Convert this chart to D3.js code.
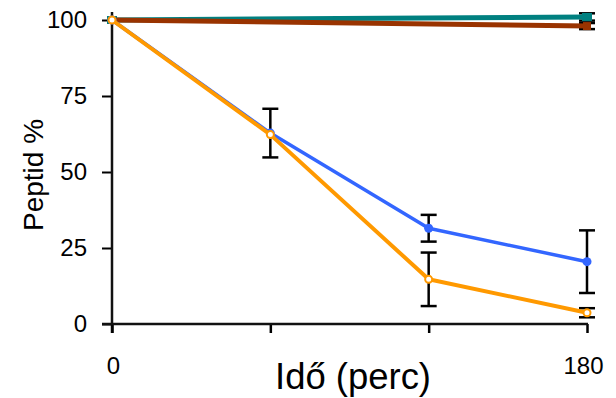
<!DOCTYPE html>
<html>
<head>
<meta charset="utf-8">
<script src="https://cdn.jsdelivr.net/npm/d3@7"></script>
<style>
  body { margin: 0; background: #fff; }
  text { font-family: "Liberation Sans", Arial, sans-serif; }
</style>
</head>
<body>
<script>
// data
var times = [0, 60, 120, 180];
var xTickLabels = ["0", "", "", "180"];
var yTicks = [0, 25, 50, 75, 100];

var tealTimes = [0, 180];
var tealValues = [100, 101];
var tealErr = [0, 1.2];

var brownTimes = [0, 180];
var brownValues = [100, 98];
var brownErr = [0, 1];

var blueValues = [100, 62.8, 31.5, 20.5];
var blueErr = [0, 8, 4.4, 10.3];

var orangeValues = [100, 62.3, 14.7, 3.7];
var orangeErr = [0, 0, 8.8, 1.5];

var W = 616, H = 398;
var svg = d3.select("body").append("svg")
    .attr("width", W).attr("height", H);

var x = d3.scaleLinear().domain([0, 180]).range([112, 587]);
var y = d3.scaleLinear().domain([0, 100]).range([324, 20]);

// y axis
var yAxis = svg.append("g")
    .attr("transform", "translate(112,0)")
    .call(d3.axisLeft(y).tickValues(yTicks).tickSize(10).tickSizeOuter(0).tickPadding(15));
yAxis.select(".domain").remove();
yAxis.selectAll("line").attr("stroke", "#000").attr("stroke-width", 2);
yAxis.selectAll("text").attr("font-size", 24).attr("fill", "#000");
svg.append("line")
    .attr("x1", 112).attr("x2", 112)
    .attr("y1", 12).attr("y2", 333)
    .attr("stroke", "#111").attr("stroke-width", 2.5);

// x axis
var xAxis = svg.append("g")
    .attr("transform", "translate(0,324)")
    .call(d3.axisBottom(x).tickValues(times).tickSize(9).tickSizeOuter(0)
        .tickFormat(function(d, i) { return xTickLabels[i]; }).tickPadding(24));
xAxis.select(".domain").remove();
xAxis.selectAll("line").attr("stroke", "#000").attr("stroke-width", 2.5);
xAxis.selectAll("text").attr("font-size", 24).attr("fill", "#000")
    .attr("dx", function(d, i) { return i == 3 ? -4 : 1; });
svg.append("line")
    .attr("x1", 102).attr("x2", 588)
    .attr("y1", 324).attr("y2", 324)
    .attr("stroke", "#111").attr("stroke-width", 2.5);

// axis titles
svg.append("text")
    .attr("x", 353).attr("y", 389)
    .attr("text-anchor", "middle")
    .attr("font-size", 36)
    .attr("textLength", 156)
    .attr("lengthAdjust", "spacingAndGlyphs")
    .text("Idő (perc)");
svg.append("text")
    .attr("transform", "translate(43,175) rotate(-90)")
    .attr("text-anchor", "middle")
    .attr("font-size", 28)
    .text("Peptid %");

var line = d3.line().x(function(d) { return x(d[0]); }).y(function(d) { return y(d[1]); });

function errorBars(ts, vals, errs) {
    var g = svg.append("g").attr("stroke", "#000").attr("stroke-width", 2.5);
    ts.forEach(function(t, i) {
        if (!errs[i]) return;
        var cx = x(t), y0 = y(vals[i] - errs[i]), y1 = y(vals[i] + errs[i]);
        g.append("line").attr("x1", cx).attr("x2", cx).attr("y1", y0).attr("y2", y1);
        g.append("line").attr("x1", cx - 8).attr("x2", cx + 8).attr("y1", y0).attr("y2", y0);
        g.append("line").attr("x1", cx - 8).attr("x2", cx + 8).attr("y1", y1).attr("y2", y1);
    });
}

function series(ts, vals, color, width) {
    svg.append("path")
        .datum(d3.zip(ts, vals))
        .attr("fill", "none")
        .attr("stroke", color)
        .attr("stroke-width", width)
        .attr("stroke-linejoin", "round")
        .attr("d", line);
}

// teal
errorBars(tealTimes, tealValues, tealErr);
series(tealTimes, tealValues, "#008080", 5);
svg.append("g").selectAll("rect").data(d3.zip(tealTimes, tealValues)).join("rect")
    .attr("x", function(d) { return x(d[0]) - 5; })
    .attr("y", function(d) { return y(d[1]) - 4; })
    .attr("width", 10).attr("height", 8)
    .attr("fill", "#008080");

// brown
errorBars(brownTimes, brownValues, brownErr);
series(brownTimes, brownValues, "#993300", 5);
svg.append("g").selectAll("rect").data(d3.zip(brownTimes, brownValues)).join("rect")
    .attr("x", function(d, i) { return x(d[0]) - (i ? 4 : 2); })
    .attr("y", function(d, i) { return y(d[1]) - (i ? 4 : 2); })
    .attr("width", function(d, i) { return i ? 8 : 4; })
    .attr("height", function(d, i) { return i ? 8 : 4; })
    .attr("fill", "#993300");

// blue
errorBars(times, blueValues, blueErr);
series(times, blueValues, "#3366ff", 3.5);
svg.append("g").selectAll("circle").data(d3.zip(times, blueValues)).join("circle")
    .attr("cx", function(d) { return x(d[0]); })
    .attr("cy", function(d) { return y(d[1]); })
    .attr("r", 4.5)
    .attr("fill", "#3366ff");

// orange
errorBars(times, orangeValues, orangeErr);
series(times, orangeValues, "#ff9900", 4);
svg.append("g").selectAll("circle").data(d3.zip(times, orangeValues)).join("circle")
    .attr("cx", function(d) { return x(d[0]); })
    .attr("cy", function(d) { return y(d[1]); })
    .attr("r", 3.5)
    .attr("fill", "#fff")
    .attr("stroke", "#ff9900")
    .attr("stroke-width", 2);
</script>
</body>
</html>
